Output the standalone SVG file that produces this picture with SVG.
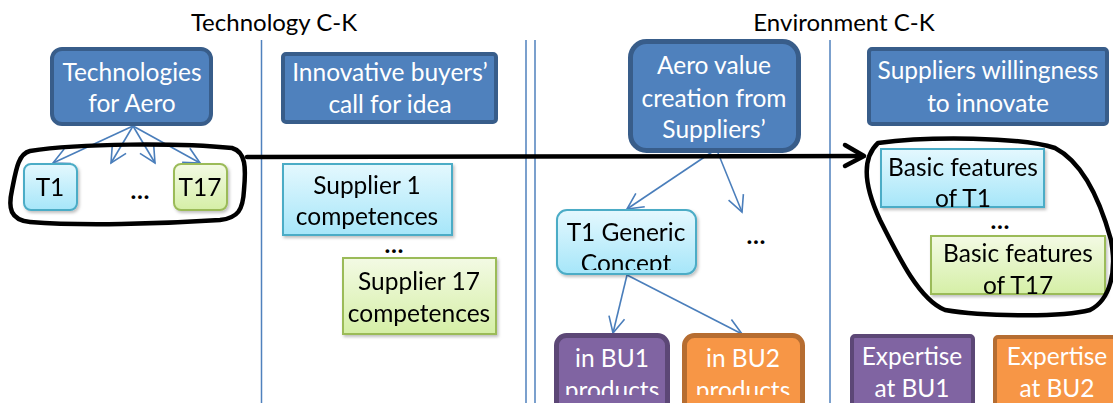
<svg xmlns="http://www.w3.org/2000/svg" width="1113" height="403" viewBox="0 0 1113 403">
<style>
text{font-family:Lato,"Open Sans","Liberation Sans",sans-serif;font-size:24.5px;text-anchor:middle}
.w{fill:#fff}.k{fill:#000}
.title{font-size:24px;fill:#000}
.dots{font-weight:bold;fill:#000}
.dark{fill:#4F81BD;stroke:#385D8A;stroke-width:4}
.lb{fill:url(#gb);stroke:#4BACC6;stroke-width:2}
.lg{fill:url(#gg);stroke:#9BBB59;stroke-width:2}
.pu{fill:#8064A2;stroke:#5C4776;stroke-width:5}
.or{fill:#F79646;stroke:#B66D31;stroke-width:5}
.vl{stroke:#4F81BD;stroke-width:1.5}
.ar{fill:none;stroke:#4A7EBB;stroke-width:1.6;marker-end:url(#ah)}
.loop{fill:none;stroke:#000;stroke-width:4.5;stroke-linejoin:round;stroke-linecap:round}
</style>
<defs>
<linearGradient id="gb" x1="0" y1="0" x2="0" y2="1"><stop offset="0" stop-color="#E4F8FE"/><stop offset="1" stop-color="#A6E6F9"/></linearGradient>
<linearGradient id="gg" x1="0" y1="0" x2="0" y2="1"><stop offset="0" stop-color="#F3FAE4"/><stop offset="1" stop-color="#D5EFA6"/></linearGradient>
<marker id="ah" markerUnits="userSpaceOnUse" viewBox="0 0 18 18" markerWidth="18" markerHeight="18" refX="17" refY="9" orient="auto" overflow="visible"><path d="M1,1 L17,9 L1,17" fill="none" stroke="#4A7EBB" stroke-width="1.6"/></marker>
<filter id="sh" x="-10%" y="-10%" width="130%" height="140%"><feDropShadow dx="1.5" dy="2" stdDeviation="1.5" flood-color="#000" flood-opacity="0.25"/></filter>
<clipPath id="c1"><rect x="557" y="210" width="139" height="60"/></clipPath>
<clipPath id="c2"><rect x="556" y="335" width="250" height="60"/></clipPath>
</defs>

<g id="titles">
<text class="title" x="274" y="31">Technology C-K</text>
<text class="title" x="844" y="31">Environment C-K</text>
</g>

<g id="dividers">
<line class="vl" x1="261.5" y1="40" x2="261.5" y2="403"/>
<line class="vl" x1="526" y1="40" x2="526" y2="403"/>
<line class="vl" x1="535" y1="40" x2="535" y2="403"/>
<line class="vl" x1="830" y1="40" x2="830" y2="403"/>
</g>

<g id="connectors">
<line class="ar" x1="133" y1="126" x2="53" y2="163"/>
<line class="ar" x1="133" y1="126" x2="111" y2="163"/>
<line class="ar" x1="133" y1="126" x2="155" y2="163"/>
<line class="ar" x1="133" y1="126" x2="200" y2="163"/>
<line class="ar" x1="712" y1="152" x2="627" y2="209"/>
<line class="ar" x1="716" y1="148" x2="742" y2="212"/>
<line class="ar" x1="627" y1="275" x2="613" y2="333"/>
<line class="ar" x1="627" y1="275" x2="742" y2="334"/>
<path class="loop" d="M247,157 L862,156"/>
<path class="loop" d="M845,145 L864,156 L845,166"/>
</g>

<g id="tech-aero"><rect class="dark" x="52" y="49" width="159" height="75" rx="10"/><text class="w" x="132" y="81">Technologies</text><text class="w" x="132" y="112">for Aero</text></g>
<g id="t1" filter="url(#sh)"><rect class="lb" x="24" y="164" width="53" height="46" rx="7"/><text class="k" x="50" y="196">T1</text></g>
<g id="dots1"><text class="dots" x="140" y="199">…</text></g>
<g id="t17" filter="url(#sh)"><rect class="lg" x="174" y="164" width="53" height="46" rx="7"/><text class="k" x="200" y="196">T17</text></g>

<g id="innov"><rect class="dark" x="283" y="54" width="213" height="68" rx="3"/><text class="w" x="390" y="81">Innovative buyers’</text><text class="w" x="390" y="113">call for idea</text></g>
<g id="sup1" filter="url(#sh)"><rect class="lb" x="283" y="164" width="169" height="71"/><text class="k" x="367" y="194">Supplier 1</text><text class="k" x="367" y="225">competences</text></g>
<g id="dots2"><text class="dots" x="394" y="253">…</text></g>
<g id="sup17" filter="url(#sh)"><rect class="lg" x="343" y="258" width="153" height="76"/><text class="k" x="419" y="290">Supplier 17</text><text class="k" x="419" y="322">competences</text></g>

<g id="aero"><rect x="630.5" y="41.5" width="168" height="109" rx="16" fill="#4F81BD" stroke="#385D8A" stroke-width="5"/><text class="w" x="714" y="74">Aero value</text><text class="w" x="714" y="107">creation from</text><text class="w" x="714" y="138">Suppliers’</text></g>
<g id="t1gen" filter="url(#sh)"><rect class="lb" x="557" y="210" width="139" height="64" rx="10"/><g clip-path="url(#c1)"><text class="k" x="626" y="241">T1 Generic</text><text class="k" x="626" y="272">Concept</text></g></g>
<g id="dots3"><text class="dots" x="756" y="244">…</text></g>
<g id="bu1"><rect class="pu" x="556.5" y="335.5" width="111" height="80" rx="10"/><text class="w" x="612" y="367" clip-path="url(#c2)">in BU1</text><text class="w" x="612" y="399" clip-path="url(#c2)">products</text></g>
<g id="bu2"><rect class="or" x="684.5" y="335.5" width="118" height="80" rx="10"/><text class="w" x="743" y="367" clip-path="url(#c2)">in BU2</text><text class="w" x="743" y="399" clip-path="url(#c2)">products</text></g>

<g id="willing"><rect class="dark" x="869" y="49" width="238" height="75" rx="3"/><text class="w" x="988" y="79">Suppliers willingness</text><text class="w" x="988" y="112">to innovate</text></g>
<g id="bf1" filter="url(#sh)"><rect class="lb" x="881" y="149" width="163" height="58"/><text class="k" x="963" y="176">Basic features</text><text class="k" x="963" y="207">of T1</text></g>
<g id="dots4"><text class="dots" x="1000" y="229">…</text></g>
<g id="bf17" filter="url(#sh)"><rect class="lg" x="931" y="236" width="174" height="58"/><text class="k" x="1018" y="262">Basic features</text><text class="k" x="1018" y="294">of T17</text></g>
<g id="exp1"><rect x="852" y="336" width="121" height="80" rx="3" fill="#8064A2" stroke="#5C4776" stroke-width="4"/><text class="w" x="912" y="365">Expertise</text><text class="w" x="912" y="397">at BU1</text></g>
<g id="exp2"><rect x="995" y="337" width="130" height="80" rx="3" fill="#F79646" stroke="#B66D31" stroke-width="4"/><text class="w" x="1057" y="365">Expertise</text><text class="w" x="1057" y="397">at BU2</text></g>

<g id="loops">
<path class="loop" d="M30,151 C80,143 180,143 232,148 C246,152 246,168 244,190 C243,210 238,218 220,220 C160,224 80,226 30,222 C10,220 8,208 12,190 C16,170 18,154 30,151 Z"/>
<path class="loop" d="M878,143 C930,136 1020,137 1055,148 C1082,162 1100,200 1111,240 C1117,272 1110,300 1090,310 C1060,318 980,316 945,310 C920,300 900,260 880,220 C866,190 860,160 878,143 Z"/>
</g>
</svg>
